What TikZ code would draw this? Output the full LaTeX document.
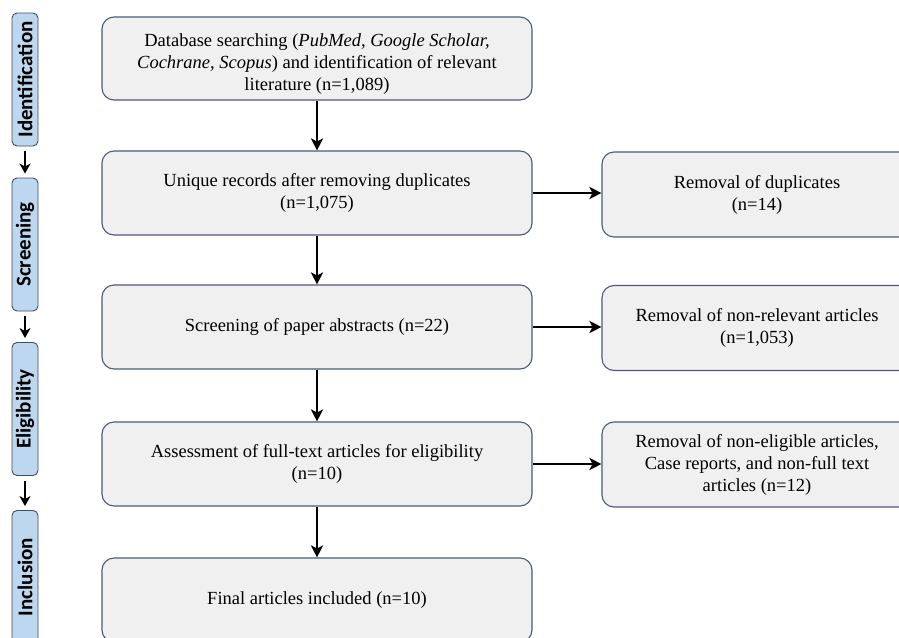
\documentclass[tikz,border=0pt]{standalone}
\usepackage{fontspec}
\setmainfont{Liberation Serif}
\newfontfamily\labelfont{Carlito}
\usetikzlibrary{arrows.meta}
\definecolor{boxfill}{HTML}{F0F0F0}
\definecolor{boxline}{HTML}{4A5B7A}
\definecolor{tagfill}{HTML}{BDD7EE}
\definecolor{tagline}{HTML}{3E4E6E}
\tikzset{
  mainbox/.style={draw=boxline, fill=boxfill, line width=1.1pt, rounded corners=12pt,
    minimum width=430pt, minimum height=84pt, align=center, inner sep=0pt,
    font=\fontsize{18.5}{22}\selectfont},
  sidebox/.style={draw=boxline, fill=boxfill, line width=1.1pt, rounded corners=12pt,
    minimum width=310pt, minimum height=85pt, align=center, inner sep=0pt,
    font=\fontsize{18.5}{22}\selectfont},
  tagbox/.style={draw=tagline, fill=tagfill, line width=0.9pt, rounded corners=5pt,
    rotate=90, minimum width=133pt, minimum height=26pt, inner sep=0pt,
    font=\labelfont\bfseries\fontsize{21}{22}\selectfont},
  flow/.style={line width=2.6pt, -{Stealth[length=12pt,width=12pt,inset=3pt]}},
  tagflow/.style={line width=2.2pt, -{Stealth[length=10pt,width=11pt,inset=3pt]}, shorten <=5pt, shorten >=4pt}
}
\begin{document}
\begin{tikzpicture}[x=1pt,y=-1pt]
\clip (0,0) rectangle (899,637);
\fill[white] (0,0) rectangle (899,637);
% left stage tags
\node[tagbox] (t1) at (25,79.5) {Identification};
\node[tagbox] (t2) at (25,244.5) {Screening};
\node[tagbox] (t3) at (25,409) {Eligibility};
\node[tagbox] (t4) at (25,577) {Inclusion};
\draw[tagflow] (t1.west) -- (t2.east);
\draw[tagflow] (t2.west) -- (t3.east);
\draw[tagflow] (t3.west) -- (t4.east);
% main column
\node[mainbox, minimum height=83pt] (b1) at (317,58.5) {\rule{0pt}{24pt}Database searching (\textit{PubMed, Google Scholar,}\\\textit{Cochrane, Scopus}) and identification of relevant\\literature (n=1,089)};
\node[mainbox] (b2) at (317,193) {Unique records after removing duplicates\\(n=1,075)};
\node[mainbox] (b3) at (317,327) {Screening of paper abstracts (n=22)};
\node[mainbox] (b4) at (317,464) {Assessment of full-text articles for eligibility\\(n=10)};
\node[mainbox] (b5) at (317,600) {Final articles included (n=10)};
% side column
\node[sidebox] (r1) at (757,194.5) {Removal of duplicates\\(n=14)};
\node[sidebox] (r2) at (757,328) {Removal of non-relevant articles\\(n=1,053)};
\node[sidebox] (r3) at (757,464.5) {Removal of non-eligible articles,\\Case reports, and non-full text\\articles (n=12)};
% connectors
\draw[flow] (b1.south) -- (b2.north);
\draw[flow] (b2.south) -- (b3.north);
\draw[flow] (b3.south) -- (b4.north);
\draw[flow] (b4.south) -- (b5.north);
\draw[flow] (b2.east) -- (b2.east -| r1.west);
\draw[flow] (b3.east) -- (b3.east -| r2.west);
\draw[flow] (b4.east) -- (b4.east -| r3.west);
\end{tikzpicture}
\end{document}
